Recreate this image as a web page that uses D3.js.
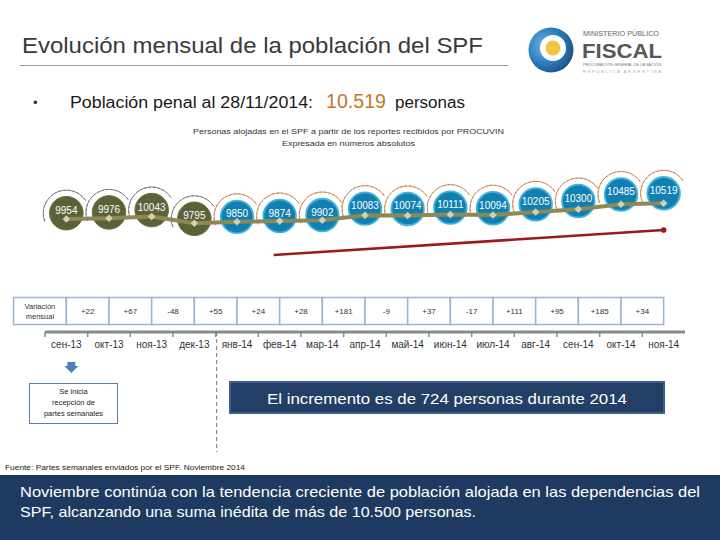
<!DOCTYPE html>
<html><head><meta charset="utf-8">
<script src="https://cdn.jsdelivr.net/npm/d3@7"></script>
<style>
html,body{margin:0;padding:0;background:#fff;}
svg{display:block;font-family:"Liberation Sans",Arial,sans-serif;}
</style></head>
<body>
<svg id="c" width="720" height="540"></svg>
<script>
const months = ["сен-13","окт-13","ноя-13","дек-13","янв-14","фев-14","мар-14","апр-14","май-14","июн-14","июл-14","авг-14","сен-14","окт-14","ноя-14"];
const population = [9954,9976,10043,9795,9850,9874,9902,10083,10074,10111,10094,10205,10300,10485,10519];
const variation = ["+22","+67","-48","+55","+24","+28","+181","-9","+37","-17","+111","+95","+185","+34"];
const trendLine = [{i:4.86, v:8650},{i:14, v:9550}];

const svg = d3.select("#c");

// ---------- Header ----------
svg.append("text").attr("x",22).attr("y",53).attr("font-size",22).attr("fill","#3a3a3a")
  .attr("textLength",461).attr("lengthAdjust","spacingAndGlyphs")
  .text("Evolución mensual de la población del SPF");
svg.append("line").attr("x1",20).attr("x2",508).attr("y1",65.5).attr("y2",65.5).attr("stroke","#9a9a9a").attr("stroke-width",1);

// logo
const logo = svg.append("g");
const grad = svg.append("defs").append("radialGradient").attr("id","lg").attr("cx","35%").attr("cy","40%").attr("r","70%");
grad.append("stop").attr("offset","0%").attr("stop-color","#6fb6e6");
grad.append("stop").attr("offset","60%").attr("stop-color","#2a79b8");
grad.append("stop").attr("offset","100%").attr("stop-color","#1c4f7e");
logo.append("circle").attr("cx",551).attr("cy",50).attr("r",22.5).attr("fill","url(#lg)");
logo.append("circle").attr("cx",553).attr("cy",48).attr("r",13).attr("fill","#ffffff");
logo.append("circle").attr("cx",553).attr("cy",48).attr("r",7.5).attr("fill","#f3c341");
logo.append("text").attr("x",583).attr("y",35.5).attr("font-size",6.5).attr("fill","#666")
  .attr("textLength",76).attr("lengthAdjust","spacingAndGlyphs").text("MINISTERIO PÚBLICO");
logo.append("text").attr("x",582).attr("y",58).attr("font-size",21).attr("font-weight","bold").attr("fill","#575757")
  .attr("textLength",80).attr("lengthAdjust","spacingAndGlyphs").text("FISCAL");
logo.append("text").attr("x",583).attr("y",66).attr("font-size",4.2).attr("fill","#777")
  .attr("textLength",78).attr("lengthAdjust","spacingAndGlyphs").text("PROCURACIÓN GENERAL DE LA NACIÓN");
logo.append("text").attr("x",583).attr("y",72.5).attr("font-size",4.2).attr("fill","#aaa")
  .attr("textLength",78).attr("lengthAdjust","spacing").text("REPÚBLICA ARGENTINA");

// bullet line
svg.append("text").attr("x",33).attr("y",107).attr("font-size",13).attr("fill","#333").text("•");
svg.append("text").attr("x",70).attr("y",108).attr("font-size",16).attr("fill","#1a1a1a")
  .attr("textLength",243).attr("lengthAdjust","spacingAndGlyphs").text("Población penal al 28/11/2014:");
svg.append("text").attr("x",326).attr("y",108).attr("font-size",20).attr("fill","#c8742a")
  .attr("textLength",60).attr("lengthAdjust","spacingAndGlyphs").text("10.519");
svg.append("text").attr("x",395).attr("y",108).attr("font-size",16).attr("fill","#1a1a1a")
  .attr("textLength",70).attr("lengthAdjust","spacingAndGlyphs").text("personas");

// subtitles
svg.append("text").attr("x",193).attr("y",134).attr("font-size",8).attr("fill","#333")
  .attr("textLength",311).attr("lengthAdjust","spacingAndGlyphs")
  .text("Personas alojadas en el SPF a partir de los reportes recibidos por PROCUVIN");
svg.append("text").attr("x",282).attr("y",145.5).attr("font-size",8).attr("fill","#333")
  .attr("textLength",133).attr("lengthAdjust","spacingAndGlyphs")
  .text("Expresada en números absolutos");

// ---------- Scales ----------
const x = d3.scaleBand().domain(months).range([45,685]).padding(0);
const cx = m => x(m) + x.bandwidth()/2;
const xi = i => 45 + x.bandwidth()*(i+0.5);
const y = d3.scaleLinear().domain([9795,10519]).range([223.3,203.3]);
const yb = d3.scaleLinear().domain([9795,10519]).range([218.8,193.3]);

const data = months.map((m,i)=>({m, v:population[i], old: m.endsWith("-13")}));

// trend line (red)
svg.append("line")
  .attr("x1",xi(trendLine[0].i)).attr("y1",y(trendLine[0].v))
  .attr("x2",xi(trendLine[1].i)).attr("y2",y(trendLine[1].v))
  .attr("stroke","#9b1b1b").attr("stroke-width",2.6);
svg.append("circle").attr("cx",xi(trendLine[1].i)).attr("cy",y(trendLine[1].v)).attr("r",2.8).attr("fill","#9b1b1b");

// dashed arcs
const arc = d3.arc().innerRadius(23).outerRadius(23).startAngle(-1.95).endAngle(1.0);
svg.append("g").selectAll("path").data(data).join("path")
  .attr("transform",d=>`translate(${cx(d.m)},${yb(d.v)})`)
  .attr("d",arc())
  .attr("fill","none")
  .attr("stroke",d=>d.old?"#6a6a6a":"#c27a45")
  .attr("stroke-width",0.9)
  .attr("stroke-dasharray","3,1.5");

// bubbles
svg.append("g").selectAll("circle").data(data).join("circle")
  .attr("cx",d=>cx(d.m)).attr("cy",d=>yb(d.v))
  .attr("r",d=>d.old?16.8:16.3)
  .attr("fill",d=>d.old?"#5b6238":"#1180b1")
  .attr("stroke",d=>d.old?"#6d7448":"#43b3dd")
  .attr("stroke-width",d=>d.old?1:1.8);

// line
svg.append("path").datum(data)
  .attr("d",d3.line().x(d=>cx(d.m)).y(d=>y(d.v)))
  .attr("fill","none").attr("stroke","#8e8756").attr("stroke-width",4).attr("stroke-linejoin","round");

// markers
svg.append("g").selectAll("path").data(data).join("path")
  .attr("transform",d=>`translate(${cx(d.m)},${y(d.v)})`)
  .attr("d",d3.symbol(d3.symbolDiamond2,36)())
  .attr("fill","#d7d0ab");

// labels
svg.append("g").selectAll("text").data(data).join("text")
  .attr("x",d=>cx(d.m)).attr("y",d=>yb(d.v)+0.5)
  .attr("text-anchor","middle").attr("font-size",10).attr("fill","#ffffff")
  .text(d=>d.v);

// ---------- Variation table ----------
const tbl = svg.append("g");
tbl.append("rect").attr("x",13.5).attr("y",297.5).attr("width",cx(months[0])-13.5).attr("height",27)
  .attr("fill","#fff").attr("stroke","#9db4d0").attr("stroke-width",1.5);
tbl.append("text").attr("x",(13.5+cx(months[0]))/2).attr("y",308.5).attr("text-anchor","middle")
  .attr("font-size",7.5).attr("fill","#333").text("Variación");
tbl.append("text").attr("x",(13.5+cx(months[0]))/2).attr("y",318.5).attr("text-anchor","middle")
  .attr("font-size",7.5).attr("fill","#333").text("mensual");
variation.forEach((v,i)=>{
  const x0 = cx(months[i]), x1 = cx(months[i+1]);
  tbl.append("rect").attr("x",x0).attr("y",297.5).attr("width",x1-x0).attr("height",27)
    .attr("fill","#fff").attr("stroke","#9db4d0").attr("stroke-width",1.5);
  tbl.append("text").attr("x",(x0+x1)/2).attr("y",314).attr("text-anchor","middle")
    .attr("font-size",8).attr("fill","#333").text(v);
});

// ---------- X axis ----------
const axisY = 332;
const ax = svg.append("g").attr("transform",`translate(0,${axisY})`)
  .call(d3.axisBottom(x).tickSize(0).tickPadding(9));
ax.select(".domain").remove();
ax.selectAll("text").attr("font-size",10).attr("fill","#333").attr("font-family","Liberation Sans, Arial, sans-serif");
svg.append("line").attr("x1",45).attr("x2",685).attr("y1",axisY).attr("y2",axisY).attr("stroke","#8a8a8a").attr("stroke-width",3);
svg.append("g").selectAll("line").data(d3.range(months.length)).join("line")
  .attr("x1",i=>x(months[i])).attr("x2",i=>x(months[i]))
  .attr("y1",axisY).attr("y2",axisY+5).attr("stroke","#8a8a8a").attr("stroke-width",1.5);

// dashed divider between 2013 and 2014
svg.append("line").attr("x1",x("янв-14")+1).attr("x2",x("янв-14")+1).attr("y1",axisY).attr("y2",452)
  .attr("stroke","#777").attr("stroke-width",1).attr("stroke-dasharray","4,3");

// down arrow + box
const ac = cx(months[0])+5;
svg.append("path").attr("d",`M${ac-4},362 L${ac+4},362 L${ac+4},366 L${ac+7},366 L${ac},373 L${ac-7},366 L${ac-4},366 Z`)
  .attr("fill","#4f7fbd");
svg.append("rect").attr("x",29.5).attr("y",383.5).attr("width",88).attr("height",40)
  .attr("fill","#fff").attr("stroke","#5c7ea6").attr("stroke-width",1);
["Se inicia","recepción de","partes semanales"].forEach((t,i)=>{
  svg.append("text").attr("x",73.5).attr("y",394+i*11).attr("text-anchor","middle")
    .attr("font-size",7.5).attr("fill","#222").text(t);
});

// highlight box
svg.append("rect").attr("x",230).attr("y",382).attr("width",434).attr("height",31)
  .attr("fill","#233f66").attr("stroke","#3d5f8c").attr("stroke-width",2);
svg.append("text").attr("x",447).attr("y",404).attr("text-anchor","middle").attr("font-size",15)
  .attr("fill","#fff").attr("textLength",360).attr("lengthAdjust","spacingAndGlyphs")
  .text("El incremento es de 724 personas durante 2014");

// source
svg.append("text").attr("x",5).attr("y",469.5).attr("font-size",7.5).attr("fill","#222")
  .attr("textLength",240).attr("lengthAdjust","spacingAndGlyphs")
  .text("Fuente: Partes semanales enviados por el SPF. Noviembre 2014");

// bottom band
svg.append("rect").attr("x",0).attr("y",475).attr("width",720).attr("height",65).attr("fill","#1f3a60");
svg.append("text").attr("x",20).attr("y",497).attr("font-size",15).attr("fill","#fff")
  .attr("textLength",680).attr("lengthAdjust","spacingAndGlyphs")
  .text("Noviembre continúa con la tendencia creciente de población alojada en las dependencias del");
svg.append("text").attr("x",20).attr("y",517).attr("font-size",15).attr("fill","#fff")
  .attr("textLength",456).attr("lengthAdjust","spacingAndGlyphs")
  .text("SPF, alcanzando una suma inédita de más de 10.500 personas.");
</script>
</body></html>
